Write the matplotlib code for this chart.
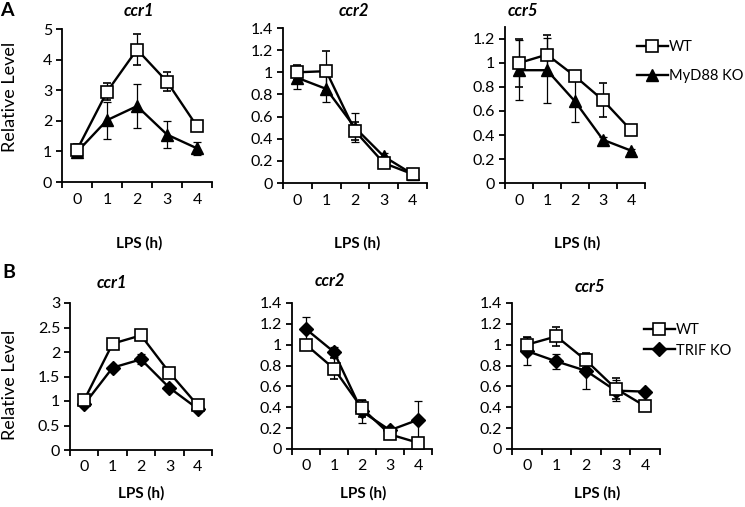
import numpy as np
import matplotlib
matplotlib.use("Agg")
import matplotlib.pyplot as plt
from matplotlib.ticker import FuncFormatter

plt.rcParams['font.family'] = ['Lato', 'DejaVu Sans']

hours = [0, 1, 2, 3, 4]
genes = ['ccr1', 'ccr2', 'ccr5']

# panel A: WT vs MyD88 KO
a_wt = {'ccr1': [1.05, 2.95, 4.33, 3.28, 1.82],
        'ccr2': [1.0, 1.01, 0.47, 0.18, 0.08],
        'ccr5': [1.0, 1.07, 0.89, 0.69, 0.44]}
a_wt_err = {'ccr1': [0.2, 0.27, 0.5, 0.3, 0.05],
            'ccr2': [0.07, 0.18, 0.08, 0.02, 0.02],
            'ccr5': [0.2, 0.16, 0.04, 0.14, 0.04]}
a_ko = {'ccr1': [0.98, 2.02, 2.48, 1.55, 1.1],
        'ccr2': [0.95, 0.85, 0.5, 0.24, 0.08],
        'ccr5': [0.94, 0.94, 0.68, 0.36, 0.27]}
a_ko_err = {'ccr1': [0.15, 0.6, 0.73, 0.45, 0.22],
            'ccr2': [0.1, 0.12, 0.13, 0.03, 0.02],
            'ccr5': [0.25, 0.27, 0.17, 0.02, 0.01]}

# panel B: WT vs TRIF KO
b_wt = {'ccr1': [1.02, 2.17, 2.34, 1.58, 0.91],
        'ccr2': [1.0, 0.77, 0.39, 0.14, 0.06],
        'ccr5': [1.0, 1.08, 0.85, 0.58, 0.41]}
b_wt_err = {'ccr1': [0.04, 0.04, 0.04, 0.04, 0.03],
            'ccr2': [0.03, 0.1, 0.08, 0.02, 0.02],
            'ccr5': [0.07, 0.09, 0.07, 0.1, 0.02]}
b_ko = {'ccr1': [0.93, 1.68, 1.85, 1.27, 0.84],
        'ccr2': [1.15, 0.93, 0.36, 0.18, 0.28],
        'ccr5': [0.94, 0.84, 0.75, 0.56, 0.55]}
b_ko_err = {'ccr1': [0.03, 0.04, 0.1, 0.04, 0.03],
            'ccr2': [0.12, 0.05, 0.11, 0.02, 0.18],
            'ccr5': [0.13, 0.07, 0.17, 0.1, 0.02]}

a_ylim = {'ccr1': (5, 1), 'ccr2': (1.4, 0.2), 'ccr5': (1.3, 0.2)}
b_ylim = {'ccr1': (3, 0.5), 'ccr2': (1.4, 0.2), 'ccr5': (1.4, 0.2)}

W, H = 745, 507
fig = plt.figure(figsize=(W / 100, H / 100), dpi=100)


def px_axes(x0, x1, ytop, ybot):
    return fig.add_axes([x0 / W, 1 - ybot / H, (x1 - x0) / W, (ybot - ytop) / H])


def ftext(x, y, s, **kw):
    fig.text(x / W, 1 - y / H, s, ha='center', va='center', **kw)


def draw(ax, wt, wt_err, ko, ko_err, ymax, ystep, ko_marker, ko_ms, ko_label):
    x = np.array(hours)
    c1 = ax.errorbar(x, wt, yerr=wt_err, color='black', lw=1.7, marker='s', ms=8.5,
                     mfc='white', mec='black', mew=1.2, ecolor='black', elinewidth=0.9,
                     capsize=2.8, capthick=0.9, label='WT', zorder=3)
    c2 = ax.errorbar(x, ko, yerr=ko_err, color='black', lw=1.7, marker=ko_marker, ms=ko_ms,
                     mfc='black', mec='black', ecolor='black', elinewidth=0.9,
                     capsize=2.8, capthick=0.9, label=ko_label, zorder=2)
    ax.set_xlim(-0.5, 4.5)
    ax.set_ylim(0, ymax)
    ax.set_yticks(np.arange(0, ymax + 1e-6, ystep))
    ax.yaxis.set_major_formatter(FuncFormatter(lambda v, p: '%g' % round(v, 2)))
    ax.set_xticks(np.arange(-0.5, 4.6, 1.0))
    ax.set_xticklabels([])
    for h in hours:
        ax.text(h, -0.115, str(h), transform=ax.get_xaxis_transform(),
                ha='center', va='center', fontsize=11.5)
    for s in ['top', 'right']:
        ax.spines[s].set_visible(False)
    for s in ['left', 'bottom']:
        ax.spines[s].set_linewidth(1.3)
    ax.tick_params(axis='both', direction='out', length=4, width=1.3, labelsize=11.5)
    ax.tick_params(axis='y', pad=3)
    return c1[0], c2[0]


a_boxes = {'ccr1': (62, 212, 29, 182), 'ccr2': (283, 427, 28, 183), 'ccr5': (505, 645, 27, 183)}
b_boxes = {'ccr1': (70, 212, 303, 450), 'ccr2': (292, 432, 303, 449), 'ccr5': (512, 660, 303, 449)}
a_titles = {'ccr1': (139, 11), 'ccr2': (354, 11), 'ccr5': (523, 11)}
b_titles = {'ccr1': (112, 283), 'ccr2': (330, 281), 'ccr5': (590, 287)}
a_xlab = {'ccr1': (139, 243), 'ccr2': (357, 243), 'ccr5': (577, 243)}
b_xlab = {'ccr1': (141, 493), 'ccr2': (363, 493), 'ccr5': (597, 493)}

for g in genes:
    ax = px_axes(*a_boxes[g])
    handles = draw(ax, a_wt[g], a_wt_err[g], a_ko[g], a_ko_err[g],
                   a_ylim[g][0], a_ylim[g][1], '^', 9, 'MyD88 KO')
    ftext(*a_titles[g], g, fontsize=12, fontweight='bold', fontstyle='italic')
    ftext(*a_xlab[g], 'LPS (h)', fontsize=11, fontweight='bold')
    if g == 'ccr5':
        fig.legend(handles, ['WT', 'MyD88 KO'], loc='upper left',
                   bbox_to_anchor=(637 / W, 1 - 40 / H), frameon=False, fontsize=10.5,
                   handlelength=2.1, handletextpad=0.1, labelspacing=1.05, borderpad=0,
                   borderaxespad=0)

for g in genes:
    ax = px_axes(*b_boxes[g])
    handles = draw(ax, b_wt[g], b_wt_err[g], b_ko[g], b_ko_err[g],
                   b_ylim[g][0], b_ylim[g][1], 'D', 7.5, 'TRIF KO')
    ftext(*b_titles[g], g, fontsize=12, fontweight='bold', fontstyle='italic')
    ftext(*b_xlab[g], 'LPS (h)', fontsize=11, fontweight='bold')
    if g == 'ccr5':
        fig.legend(handles, ['WT', 'TRIF KO'], loc='upper left',
                   bbox_to_anchor=(644 / W, 1 - 323 / H), frameon=False, fontsize=10.5,
                   handlelength=2.1, handletextpad=0.1, labelspacing=0.45, borderpad=0,
                   borderaxespad=0)

ftext(10, 97, 'Relative Level', fontsize=13, rotation=90)
ftext(10, 385, 'Relative Level', fontsize=13, rotation=90)
ftext(7, 10, 'A', fontsize=14, fontweight='bold')
ftext(9, 273, 'B', fontsize=14, fontweight='bold')

fig.savefig('out.png', dpi=100)
